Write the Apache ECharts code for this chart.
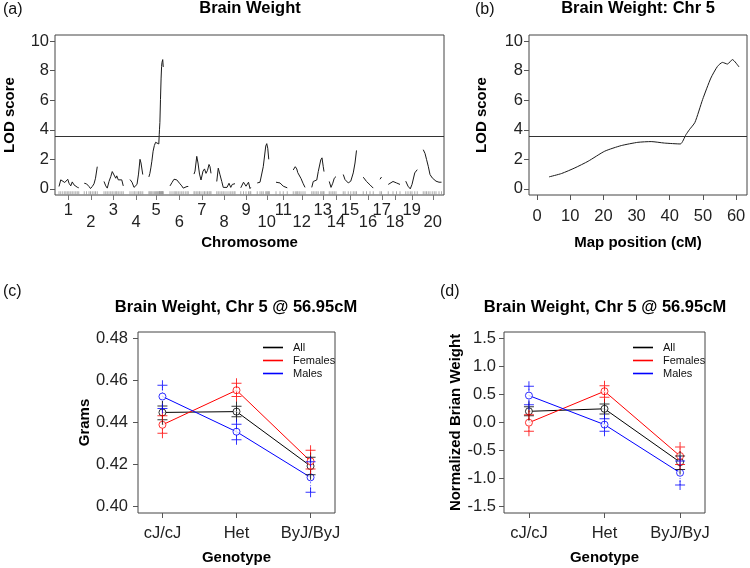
<!DOCTYPE html>
<html><head><meta charset="utf-8">
<script src="https://cdn.jsdelivr.net/npm/echarts@6/dist/echarts.min.js"></script>
<style>html,body{margin:0;padding:0;background:#fff}#c{width:750px;height:568px}</style>
</head><body><div id="c"></div>
<script>
// ---------- DATA ----------
const chrNames = ['1','2','3','4','5','6','7','8','9','10','11','12','13','14','15','16','17','18','19','20'];
// genome offset (cM units on the concatenated axis) of each chromosome
const chrOffsets = [16,117,196,300,372,460,556,647,743,809,884,953,1027,1097,1153,1233,1300,1333,1403,1473];
// chromosome label positions on the concatenated axis
const chrMid = [53,143,233,324,404,497,587,676,764,847,913,987,1071,1124,1180,1252,1307,1360,1427,1511];
const genomeLength = 1556;
const lodThreshold = 3.53;

// Chr 5 interval scan (panel b)
const chr5Pos = [3.6,7.4,11.4,15.4,20.4,25.4,30.4,34.4,38.4,43.2,44.9,45.9,47.6,49.9,52.4,54.4,55.9,57.4,58.9,60.9];
const chr5Lod = [0.81,1.04,1.42,1.87,2.55,2.93,3.15,3.2,3.1,3.04,3.67,4.0,4.5,6.04,7.5,8.29,8.56,8.45,8.75,8.25];

// genome scan, [cM within chromosome, LOD]
const chr1 = [[0,.16],[7,.61],[15,.56],[23,.43],[28,.34],[35,.65],[40,.38],[47,.2],[53,.47],[60,.27],[67,.34],[73,.11],[79,.07]];
const chr2 = [[0,.38],[9,.34],[19,.16],[25,.02],[32,.16],[39,.34],[45,.72],[52,1.5]];
const chr3 = [[0,.5],[7,.2],[13,.05],[20,.5],[27,.83],[33,1.17],[40,1.06],[47,.72],[51,.88],[57,.61],[64,.5],[71,.61],[77,.2]];
const chr4 = [[0,.63],[8,.45],[16,.1],[20,0],[28,.3],[34,1.0],[40,2.0],[44,1.75],[51,.97]];
const chr5 = chr5Pos.map((p,i)=>[p, chr5Lod[i]]);
const chr6 = [[0,.2],[8,.43],[16,.65],[21,.74],[27,.61],[33,.5],[40,.34],[47,.2],[53,.05],[61,.09],[68,.16],[73,.16]];
const chr7 = [[0,1.0],[4,1.2],[11,2.2],[16,1.75],[22,1.0],[28,.6],[36,1.2],[42,1.35],[48,1.05],[54,1.25],[60,1.65],[64,1.5],[68,1.05]];
const chr8 = [[0,.5],[6,1.4],[13,.95],[20,.5],[26,.1],[33,.05],[41,.1],[49,.38],[56,.1],[62,.3],[69,.2],[73,.35]];
const chr9 = [[0,.07],[11,.45],[21,.18],[31,.45],[37,.02],[40,.1]];
const chr10 = [[0,.4],[11,.45],[18,.52],[24,1.5],[34,2.9],[38,3.06],[42,2.75],[46,2.0],[48,2.0]];
const chr11 = [[0,.45],[16,.4],[29,.18],[45,.07]];
const chr12 = [[0,1.28],[8,1.5],[14,1.35],[18,1.1],[24,1.2],[31,.7],[39,.38],[47,.1]];
const chr13 = [[0,.1],[6,.5],[13,.38],[20,.6],[26,1.17],[36,1.96],[41,2.1],[46,1.5],[49,1.17]];
const chr14 = [[0,.5],[7,.1],[14,.38],[20,.72],[27,.83]];
const chr15 = [[0,.97],[7,.63],[20,.4],[30,.52],[40,1.08],[47,1.75],[53,2.6]];
const chr16 = [[0,.79],[13,.5],[27,.27],[40,.05]];
const chr17 = [[0,.65],[6,.8]];
const chr18 = [[0,.3],[19,.5],[33,.4],[47,.3]];
const chr19 = [[0,.52],[9,.18],[18,0],[25,.3],[36,1.08],[46,1.3]];
const chr20 = [[0,2.65],[7,2.4],[13,2.0],[20,1.53],[27,.97],[36,.74],[44,.85],[51,.52],[63,.45],[73,.45]];
const chrScans = [chr1,chr2,chr3,chr4,chr5,chr6,chr7,chr8,chr9,chr10,chr11,chr12,chr13,chr14,chr15,chr16,chr17,chr18,chr19,chr20];

const lodTicks = [0,2,4,6,8,10];
const mapTicks = [0,10,20,30,40,50,60];

const genotypes = ['cJ/cJ','Het','ByJ/ByJ'];
const groups = ['All','Females','Males'];
// panel c: grams
const gramsMean = { All:[0.4448,0.4452,0.4192], Females:[0.4389,0.4554,0.4215], Males:[0.4524,0.4356,0.4138] };
const gramsHi   = { All:[0.4479,0.4478,0.4234], Females:[0.4432,0.4587,0.4268], Males:[0.4578,0.4392,0.4213] };
const gramsLo   = { All:[0.4413,0.4428,0.4150], Females:[0.4349,0.4524,0.4178], Males:[0.4467,0.4318,0.4067] };
const gramsTicks = [0.40,0.42,0.44,0.46,0.48];
// panel d: normalized
const normMean = { All:[0.20,0.245,-0.71], Females:[-0.003,0.559,-0.60], Males:[0.482,-0.038,-0.90] };
const normHi   = { All:[0.28,0.33,-0.60], Females:[0.14,0.66,-0.44], Males:[0.648,0.068,-0.69] };
const normLo   = { All:[0.12,0.15,-0.84], Females:[-0.157,0.45,-0.75], Males:[0.317,-0.157,-1.12] };
const normTicks = [-1.5,-1.0,-0.5,0.0,0.5,1.0,1.5];

// ---------- STYLE ----------
const FONT = 'Liberation Sans, Arial, sans-serif';
const groupColor = { All:'#000000', Females:'#ff0000', Males:'#0000ff' };
const PLUS = 'path://M4.5,0H5.5V4.5H10V5.5H5.5V10H4.5V5.5H0V4.5H4.5Z';

function baseAxis(extra) {
  return Object.assign({
    axisLine:{show:false, onZero:false},
    splitLine:{show:false},
    nameTextStyle:{fontFamily:FONT, fontSize:15, fontWeight:'bold', color:'#000'},
    nameLocation:'middle'
  }, extra);
}
function tick(vals, color) {
  return {show:true, length:5, customValues:vals, lineStyle:{color:color||'#555', width:1}};
}
function lab(extra) {
  return Object.assign({color:'#222', fontSize:16.5, fontFamily:FONT, margin:8, hideOverlap:false}, extra);
}

const grids = [
  {left:55, top:35, width:389, height:160},
  {left:529, top:35, width:218, height:160},
  {left:138, top:332, width:197, height:181},
  {left:504, top:332, width:201, height:181}
].map(g=>Object.assign({show:true, borderColor:'#444', borderWidth:1, backgroundColor:'transparent',
  containLabel:false, outerBoundsMode:'none'}, g));

const xAxes = [
  baseAxis({gridIndex:0, type:'value', min:0, max:genomeLength, name:'Chromosome', nameGap:40,
    axisTick:tick(chrMid,'#777'),
    axisLabel:lab({customValues:chrMid, margin:9, lineHeight:12,
      formatter:v=>{const i=chrMid.indexOf(v); return (i%2===1?'\n':'')+chrNames[i];}})}),
  baseAxis({gridIndex:1, type:'value', min:-2.44, max:63.3, name:'Map position (cM)', nameGap:40,
    axisTick:tick(mapTicks), axisLabel:lab({customValues:mapTicks, margin:13})}),
  baseAxis({gridIndex:2, type:'value', min:-0.33, max:2.33, name:'Genotype', nameGap:37,
    axisTick:tick([0,1,2]), axisLabel:lab({customValues:[0,1,2], margin:12, formatter:v=>genotypes[Math.round(v)]})}),
  baseAxis({gridIndex:3, type:'value', min:-0.33, max:2.33, name:'Genotype', nameGap:37,
    axisTick:tick([0,1,2]), axisLabel:lab({customValues:[0,1,2], margin:12, formatter:v=>genotypes[Math.round(v)]})})
];
const yAxes = [
  baseAxis({gridIndex:0, type:'value', min:-0.416, max:10.416, name:'LOD score', nameGap:38,
    axisTick:tick(lodTicks), axisLabel:lab({customValues:lodTicks, margin:6})}),
  baseAxis({gridIndex:1, type:'value', min:-0.416, max:10.416, name:'LOD score', nameGap:40,
    axisTick:tick(lodTicks), axisLabel:lab({customValues:lodTicks, margin:6})}),
  baseAxis({gridIndex:2, type:'value', min:0.3968, max:0.4832, name:'Grams', nameGap:39,
    axisTick:tick(gramsTicks), axisLabel:lab({customValues:gramsTicks, margin:10, formatter:v=>v.toFixed(2)})}),
  baseAxis({gridIndex:3, type:'value', min:-1.62, max:1.62, name:'Normalized Brian Weight', nameGap:36,
    axisTick:tick(normTicks), axisLabel:lab({customValues:normTicks, margin:8, formatter:v=>v.toFixed(1)})})
];

const series = [];
// panel a: genome scan
chrScans.forEach((scan, ci) => {
  const pts = scan.map(p => [chrOffsets[ci] + p[0], p[1]]);
  series.push({type:'line', name:'chr'+chrNames[ci], xAxisIndex:0, yAxisIndex:0, data:pts,
    showSymbol:false, symbol:'none', lineStyle:{color:'#1a1a1a', width:1}, silent:true, z:3,
    markLine: ci===0 ? {symbol:'none', silent:true, label:{show:false},
      lineStyle:{color:'#333', width:1, type:'solid'}, data:[{yAxis:lodThreshold}]} : undefined});
  series.push({type:'scatter', name:'rug'+chrNames[ci], xAxisIndex:0, yAxisIndex:0,
    data:pts.map(p=>[p[0], -0.29]), symbol:'rect', symbolSize:[1,4],
    itemStyle:{color:'#999'}, silent:true, z:2});
});
// panel b
series.push({type:'line', name:'chr5scan', xAxisIndex:1, yAxisIndex:1, data:chr5,
  showSymbol:false, symbol:'none', smooth:0.2, lineStyle:{color:'#1a1a1a', width:1}, silent:true,
  markLine:{symbol:'none', silent:true, label:{show:false}, lineStyle:{color:'#333', width:1, type:'solid'},
    data:[{yAxis:lodThreshold}]}});

function effectPanel(xi, mean, hi, lo) {
  groups.forEach(g => {
    // connecting line of means (legend entry)
    series.push({type:'line', name:g, xAxisIndex:xi, yAxisIndex:xi, color:groupColor[g],
      data:mean[g].map((v,i)=>[i,v]), symbol:'none', showSymbol:false,
      itemStyle:{color:groupColor[g]}, lineStyle:{color:groupColor[g], width:1}, z:2, silent:true});
    // dotted error bars
    mean[g].forEach((v,i)=>{
      series.push({type:'line', name:g+' bar', xAxisIndex:xi, yAxisIndex:xi,
        data:[[i, lo[g][i]],[i, hi[g][i]]], symbol:'none', silent:true,
        lineStyle:{color:groupColor[g], width:1, type:[1,2], opacity:0.7}, z:2});
    });
    // open circles at means
    series.push({type:'scatter', name:g+' mean', xAxisIndex:xi, yAxisIndex:xi,
      data:mean[g].map((v,i)=>[i,v]), symbol:'circle', symbolSize:7,
      itemStyle:{color:'#ffffff', borderColor:groupColor[g], borderWidth:1}, z:3, silent:true});
    // + at mean +/- SE
    const pm = [];
    mean[g].forEach((v,i)=>{ pm.push([i, hi[g][i]]); pm.push([i, lo[g][i]]); });
    series.push({type:'scatter', name:g+' se', xAxisIndex:xi, yAxisIndex:xi, data:pm,
      symbol:PLUS, symbolSize:10, itemStyle:{color:groupColor[g]}, z:4, silent:true});
  });
}
effectPanel(2, gramsMean, gramsHi, gramsLo);
effectPanel(3, normMean, normHi, normLo);

const legendBase = {orient:'vertical', icon:'rect', itemWidth:20, itemHeight:1.6, itemGap:0,
  data:groups.map(g=>({name:g, icon:'rect', itemStyle:{color:groupColor[g], borderColor:groupColor[g], borderWidth:0}})),
  textStyle:{fontFamily:FONT, fontSize:11, color:'#111', lineHeight:13, padding:[0,0,0,5]}, selectedMode:false};

const option = {
  animation:false,
  backgroundColor:'#fff',
  title:[
    {text:'Brain Weight', left:250, top:0},
    {text:'Brain Weight: Chr 5', left:638, top:0},
    {text:'Brain Weight, Chr 5 @ 56.95cM', left:236, top:299},
    {text:'Brain Weight, Chr 5 @ 56.95cM', left:605, top:299}
  ].map(t=>Object.assign({textAlign:'center', padding:0,
    textStyle:{fontFamily:FONT, fontSize:16.5, fontWeight:'bold', color:'#000'}}, t)),
  legend:[
    Object.assign({left:258, top:336}, legendBase),
    Object.assign({left:628, top:336}, legendBase)
  ],
  grid:grids, xAxis:xAxes, yAxis:yAxes, series:series,
  graphic:[
    {type:'text', left:3, top:2, style:{text:'(a)', font:'16px '+FONT, fill:'#111'}},
    {type:'text', left:475, top:2, style:{text:'(b)', font:'16px '+FONT, fill:'#111'}},
    {type:'text', left:3, top:284, style:{text:'(c)', font:'16px '+FONT, fill:'#111'}},
    {type:'text', left:440, top:284, style:{text:'(d)', font:'16px '+FONT, fill:'#111'}}
  ]
};
const chart = echarts.init(document.getElementById('c'));
chart.setOption(option);
</script>
</body></html>
